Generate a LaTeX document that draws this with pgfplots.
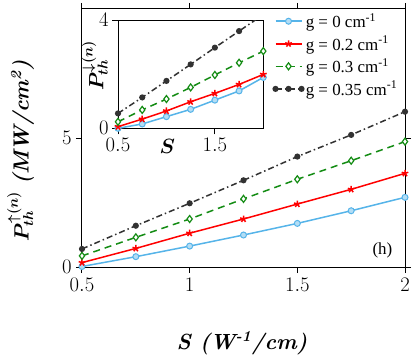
\documentclass[border=0pt]{standalone}
\usepackage{pgfplots}
\pgfplotsset{compat=1.18}
\usepackage{fontspec}
\usepackage{bm}
\newfontfamily\legfont{Liberation Serif}
\definecolor{cblue}{RGB}{86,180,233}
\definecolor{cred}{RGB}{255,0,0}
\definecolor{cgreen}{RGB}{20,140,20}
\definecolor{cblack}{RGB}{50,50,50}
\pgfplotsset{
  myleg/.style={legend image code/.code={\draw[mark repeat=2,mark phase=2] plot coordinates {(0bp,0bp) (13bp,0bp) (26bp,0bp)};}},
  sblue/.style={color=cblue, solid, line width=1.5bp, mark=*, mark size=3bp, mark options={solid, fill=cblue!45, draw=cblue, line width=1bp}},
  sred/.style={color=cred, solid, line width=1.5bp, mark=star, mark size=3.5bp, mark options={solid, line width=1.5bp}},
  sgreen/.style={color=cgreen, dashed, dash pattern=on 7bp off 5bp, line width=1.5bp, mark=diamond*, mark size=3.5bp, mark options={solid, fill=white, draw=cgreen, line width=1.2bp}},
  sblack/.style={color=cblack, dash pattern=on 6bp off 3bp on 1.5bp off 3bp, line width=1.5bp, mark=*, mark size=2.3bp, mark options={solid, fill=cblack}},
}
\begin{document}
\begin{tikzpicture}[font=\fontsize{22}{26}\selectfont]
\begin{axis}[
  at={(0bp,0bp)}, anchor=south west,
  scale only axis, width=323bp, height=258bp,
  xmin=0.5, xmax=2, ymin=0, ymax=10,
  xtick={0.5,1,1.5,2}, ytick={0,5},
  tick align=outside, tick pos=both,
  major tick length=6bp,
  axis line style={line width=1bp}, every tick/.style={line width=1bp, black},
  xticklabel style={yshift=-2bp},
  yticklabel style={xshift=-1bp},
  clip=false,
  xlabel={\textbf{\textit{S (W\textsuperscript{-1}/cm)}}},
  xlabel style={at={(axis description cs:0.495,-0.295)}, anchor=center},
  ylabel={$\bm{P^{\uparrow(n)}_{th}}$ \textbf{\textit{(MW/cm\textsuperscript{2})}}},
  ylabel style={at={(axis description cs:-0.19,0.45)}, anchor=center},
]
\addplot[sblue] coordinates {(0.5,0.02) (0.75,0.40) (1.0,0.81) (1.25,1.24) (1.5,1.69) (1.75,2.18) (2.0,2.70)};
\addplot[sred] coordinates {(0.5,0.17) (0.75,0.72) (1.0,1.31) (1.25,1.86) (1.5,2.44) (1.75,3.01) (2.0,3.63)};
\addplot[sgreen] coordinates {(0.5,0.43) (0.75,1.15) (1.0,1.86) (1.25,2.64) (1.5,3.40) (1.75,4.12) (2.0,4.86)};
\addplot[sblack] coordinates {(0.5,0.70) (0.75,1.60) (1.0,2.47) (1.25,3.36) (1.5,4.28) (1.75,5.12) (2.0,6.02)};
\node[font=\legfont\fontsize{17}{20}\selectfont] at (rel axis cs:0.93,0.066) {(h)};
\end{axis}
\begin{axis}[
  at={(36bp,138.7bp)}, anchor=south west,
  scale only axis, width=145.3bp, height=108.3bp,
  xmin=0.5, xmax=2, ymin=0, ymax=4,
  xtick={0.5,1.5}, ytick={0,4},
  tick align=outside, tick pos=left,
  major tick length=6bp,
  axis background/.style={fill=white},
  axis line style={line width=1bp}, every tick/.style={line width=1bp, black},
  clip mode=individual,
  xlabel={$\bm{S}$},
  xlabel style={at={(rel axis cs:0.34,-0.17)}, anchor=center},
  ylabel={$\bm{P^{\downarrow(n)}_{th}}$},
  ylabel style={at={(rel axis cs:-0.16,0.58)}, anchor=center},
  legend style={at={(rel axis cs:1.06,1.09)}, anchor=north west, draw=none, fill=white,
    font=\legfont\fontsize{17}{20}\selectfont, row sep=3bp, inner sep=1bp},
  legend cell align=left,
]
\addplot[sblue, myleg] coordinates {(0.5,0.0) (0.75,0.16) (1.0,0.43) (1.25,0.70) (1.5,1.04) (1.75,1.38) (2.0,1.88)};
\addlegendentry{g = 0 cm\textsuperscript{-1}}
\addplot[sred, myleg] coordinates {(0.5,0.06) (0.75,0.34) (1.0,0.64) (1.25,0.98) (1.5,1.29) (1.75,1.62) (2.0,1.99)};
\addlegendentry{g = 0.2 cm\textsuperscript{-1}}
\addplot[sgreen, myleg] coordinates {(0.5,0.24) (0.75,0.68) (1.0,1.08) (1.25,1.51) (1.5,1.97) (1.75,2.42) (2.0,2.85)};
\addlegendentry{g = 0.3 cm\textsuperscript{-1}}
\addplot[sblack, myleg, mark indices={1,2,3,4,5,6}] coordinates {(0.5,0.55) (0.75,1.14) (1.0,1.75) (1.25,2.36) (1.5,2.98) (1.75,3.59) (2.0,4.20)};
\addlegendentry{g = 0.35 cm\textsuperscript{-1}}
\end{axis}
\pgfresetboundingbox
\path[use as bounding box] (-82bp,-94bp) rectangle (333bp,267bp);
\end{tikzpicture}
\end{document}
